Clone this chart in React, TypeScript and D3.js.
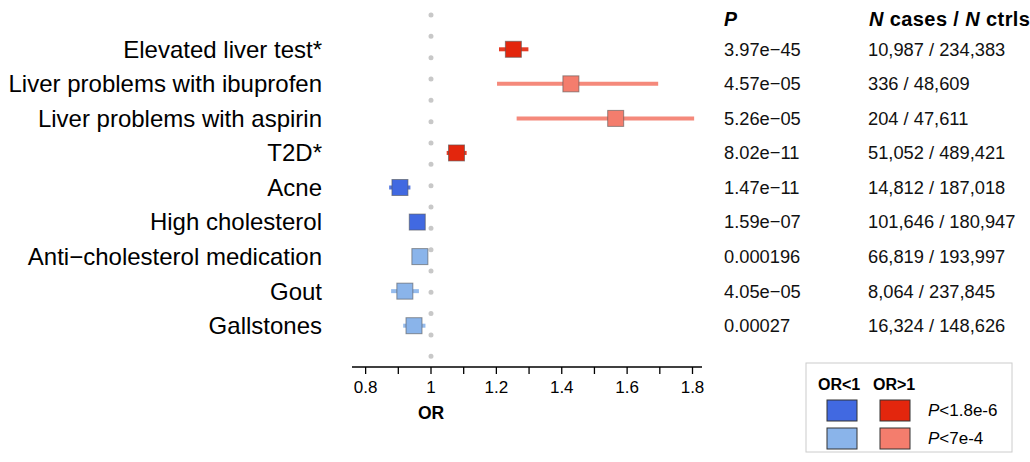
import * as d3 from 'd3';

const traits = [
  'Elevated liver test*',
  'Liver problems with ibuprofen',
  'Liver problems with aspirin',
  'T2D*',
  'Acne',
  'High cholesterol',
  'Anti\u2212cholesterol medication',
  'Gout',
  'Gallstones',
];
const oddsRatios = [1.252, 1.428, 1.565, 1.078, 0.905, 0.958, 0.966, 0.92, 0.948];
const ciLower = [1.208, 1.202, 1.262, 1.048, 0.872, 0.95, 0.958, 0.878, 0.915];
const ciUpper = [1.298, 1.695, 1.805, 1.109, 0.937, 0.966, 0.974, 0.963, 0.983];
const pValues = [3.97e-45, 4.57e-5, 5.26e-5, 8.02e-11, 1.47e-11, 1.59e-7, 0.000196, 4.05e-5, 0.00027];
const pLabels = [
  '3.97e\u221245', '4.57e\u221205', '5.26e\u221205', '8.02e\u221211', '1.47e\u221211',
  '1.59e\u221207', '0.000196', '4.05e\u221205', '0.00027',
];
const nCases = ['10,987', '336', '204', '51,052', '14,812', '101,646', '66,819', '8,064', '16,324'];
const nCtrls = ['234,383', '48,609', '47,611', '489,421', '187,018', '180,947', '193,997', '237,845', '148,626'];
const majorTicks = [0.8, 1, 1.2, 1.4, 1.6, 1.8];
const allTicks = [0.8, 0.9, 1, 1.1, 1.2, 1.3, 1.4, 1.5, 1.6, 1.7, 1.8];

const STRONG_P = 1.8e-6;
const colors = {
  lowStrong: '#4169e1',
  lowWeak: '#8ab4ea',
  highStrong: '#e3260d',
  highWeak: '#f47d6d',
};

const font = '"Liberation Sans", Arial, Helvetica, sans-serif';

function colorFor(i: number) {
  const strong = pValues[i] < STRONG_P;
  if (oddsRatios[i] > 1) return strong ? colors.highStrong : colors.highWeak;
  return strong ? colors.lowStrong : colors.lowWeak;
}

export default function App() {
  const width = 1030;
  const height = 462;

  const x = d3.scaleLinear().domain([1, 1.8]).range([431, 692.5]);
  const y = d3.scalePoint<string>().domain(traits).range([49.3, 325.7]);

  const axisY = 367;
  const [x0, x1] = [x.invert(352), x.invert(702)];
  const sq = 16;

  const pX = 724;
  const nX = 868;

  return (
    <svg
      width={width}
      height={height}
      style={{ position: 'absolute', left: 0, top: 0, background: '#fff' }}
      fontFamily={font}
    >
      {/* reference line at OR = 1 */}
      <line
        x1={x(1)}
        x2={x(1)}
        y1={15}
        y2={357}
        stroke="#c8c8c8"
        strokeWidth={5}
        strokeLinecap="round"
        strokeDasharray="0 21.33"
      />

      {traits.map((t, i) => {
        const cy = y(t)!;
        const c = colorFor(i);
        return (
          <g key={t}>
            <text
              x={322}
              y={cy}
              dy="0.35em"
              textAnchor="end"
              fontSize={24}
              fill="#000"
            >
              {t}
            </text>
            <line
              x1={x(ciLower[i])}
              x2={x(ciUpper[i])}
              y1={cy}
              y2={cy}
              stroke={c}
              strokeWidth={4}
              opacity={0.9}
            />
            <rect
              x={x(oddsRatios[i]) - sq / 2}
              y={cy - sq / 2}
              width={sq}
              height={sq}
              fill={c}
              stroke="#555"
              strokeOpacity={0.6}
              strokeWidth={1}
            />
            <text x={pX} y={cy} dy="0.35em" fontSize={18.3} fill="#111">
              {pLabels[i]}
            </text>
            <text x={nX} y={cy} dy="0.35em" fontSize={18.3} fill="#111">
              {`${nCases[i]} / ${nCtrls[i]}`}
            </text>
          </g>
        );
      })}

      {/* column headers */}
      <text x={pX} y={19} dy="0.35em" fontSize={19.5} fontWeight="bold" fontStyle="italic">
        P
      </text>
      <text x={nX + 1} y={19} dy="0.35em" fontSize={20} fontWeight="bold" letterSpacing={0.4}>
        <tspan fontStyle="italic">N</tspan> cases / <tspan fontStyle="italic">N</tspan> ctrls
      </text>

      {/* x axis */}
      <line x1={x(x0)} x2={x(x1)} y1={axisY} y2={axisY} stroke="#000" strokeWidth={1.3} />
      {allTicks.map((t) => (
        <line key={t} x1={x(t)} x2={x(t)} y1={axisY} y2={axisY + 7} stroke="#000" strokeWidth={1.3} />
      ))}
      {majorTicks.map((t) => (
        <text key={t} x={x(t)} y={387} dy="0.35em" textAnchor="middle" fontSize={17}>
          {d3.format('~g')(t)}
        </text>
      ))}
      <text x={x(1)} y={413} dy="0.35em" textAnchor="middle" fontSize={17.5} fontWeight="bold">
        OR
      </text>

      {/* legend */}
      <rect x={806} y={363} width={206} height={89} fill="#fff" stroke="#ccc" strokeWidth={1} />
      <text x={818} y={384} dy="0.35em" fontSize={16} fontWeight="bold">OR&lt;1</text>
      <text x={873} y={384} dy="0.35em" fontSize={16} fontWeight="bold">OR&gt;1</text>
      <rect x={827} y={400} width={30} height={21} fill={colors.lowStrong} stroke="#333" strokeWidth={1} />
      <rect x={880} y={400} width={30} height={21} fill={colors.highStrong} stroke="#333" strokeWidth={1} />
      <rect x={827} y={428} width={30} height={21} fill={colors.lowWeak} stroke="#333" strokeWidth={1} />
      <rect x={880} y={428} width={30} height={21} fill={colors.highWeak} stroke="#333" strokeWidth={1} />
      <text x={928} y={410} dy="0.35em" fontSize={17}>
        <tspan fontStyle="italic">P</tspan>&lt;1.8e-6
      </text>
      <text x={928} y={438} dy="0.35em" fontSize={17}>
        <tspan fontStyle="italic">P</tspan>&lt;7e-4
      </text>
    </svg>
  );
}
